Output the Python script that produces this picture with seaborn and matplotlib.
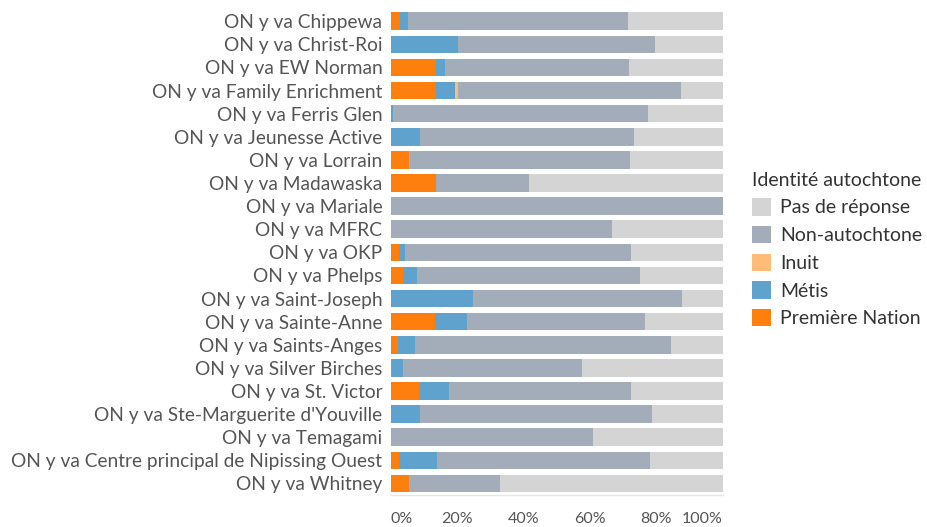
import matplotlib
matplotlib.use("Agg")
import matplotlib.pyplot as plt
import seaborn as sns
import pandas as pd
import numpy as np
from matplotlib.patches import Patch

programs = [
    "ON y va Chippewa", "ON y va Christ-Roi", "ON y va EW Norman",
    "ON y va Family Enrichment", "ON y va Ferris Glen", "ON y va Jeunesse Active",
    "ON y va Lorrain", "ON y va Madawaska", "ON y va Mariale", "ON y va MFRC",
    "ON y va OKP", "ON y va Phelps", "ON y va Saint-Joseph", "ON y va Sainte-Anne",
    "ON y va Saints-Anges", "ON y va Silver Birches", "ON y va St. Victor",
    "ON y va Ste-Marguerite d'Youville", "ON y va Temagami",
    "ON y va Centre principal de Nipissing Ouest", "ON y va Whitney",
]
premiere_nation = [2.9, 0.0, 13.7, 13.7, 0.0, 0.0, 5.4, 13.7, 0.0, 0.0, 2.5, 3.7, 0.0, 13.3, 2.1, 0.5, 8.7, 0.0, 0.0, 2.5, 5.4]
metis =           [2.4, 20.3, 2.8, 5.7, 0.8, 8.7, 0.0, 0.0, 0.0, 0.0, 1.7, 4.2, 24.7, 9.8, 5.3, 3.2, 9.0, 8.7, 0.0, 11.5, 0.0]
inuit =           [0.0, 0.0, 0.0, 0.9, 0.0, 0.0, 0.0, 0.0, 0.0, 0.0, 0.0, 0.0, 0.0, 0.0, 0.0, 0.0, 0.0, 0.0, 0.0, 0.0, 0.0]
non_autochtone =  [66.3, 59.2, 55.2, 67.1, 76.6, 64.6, 66.7, 28.0, 100.0, 66.8, 68.3, 67.1, 63.1, 53.5, 77.0, 53.9, 54.7, 70.0, 61.0, 64.2, 27.5]
pas_de_reponse =  [28.4, 20.5, 28.3, 12.6, 22.6, 26.7, 27.9, 58.3, 0.0, 33.2, 27.5, 25.0, 12.2, 23.4, 15.6, 42.4, 27.6, 21.3, 39.0, 21.8, 67.1]

series_names = ["Première Nation", "Métis", "Inuit", "Non-autochtone", "Pas de réponse"]
series_values = [premiere_nation, metis, inuit, non_autochtone, pas_de_reponse]
series_colors = ["#FF7F0E", "#5FA2CE", "#FFBC79", "#A3ACB9", "#D4D4D4"]
x_ticks = [0, 20, 40, 60, 80, 100]
x_tick_labels = ["0%", "20%", "40%", "60%", "80%", "100%"]

sns.set_theme(style="white")
plt.rcParams['font.family'] = ['Lato', 'DejaVu Sans']
text_color = "#555555"

fig = plt.figure(figsize=(9.27, 5.27), dpi=100)
ax = fig.add_axes([0.4215, 0.0607, 0.358, 0.921])

df = pd.DataFrame({"program": programs})
cum = np.zeros(len(programs))
layers = []
for name, vals, color in zip(series_names, series_values, series_colors):
    cum = cum + np.array(vals)
    df[name] = cum.copy()
    layers.append((name, color))

for name, color in reversed(layers):
    sns.barplot(data=df, x=name, y="program", order=programs, orient="h",
                color=color, saturation=1, width=0.76, linewidth=0, ax=ax)

ax.set_xlim(0, 100)
ax.set_xlabel("")
ax.set_ylabel("")
ax.set_xticks(x_ticks)
ax.set_xticklabels(x_tick_labels, fontsize=11.5, color=text_color)
lbls = ax.get_xticklabels()
lbls[0].set_ha("left")
lbls[-1].set_ha("right")
ax.tick_params(axis="x", length=5, color="#E6E6E6", width=1, pad=7)
ax.tick_params(axis="y", length=0, pad=6, labelsize=13.8, labelcolor=text_color)
for s in ["top", "right", "left"]:
    ax.spines[s].set_visible(False)
ax.spines["bottom"].set_color("#E6E6E6")
ax.spines["bottom"].set_linewidth(1)

handles = [Patch(facecolor=c, edgecolor="none") for c in reversed(series_colors)]
leg = fig.legend(handles, list(reversed(series_names)), title="Identité autochtone",
                 loc="upper left", bbox_to_anchor=(0.811, 0.674), frameon=False,
                 fontsize=14, title_fontsize=14, alignment="left",
                 handlelength=1.0, handleheight=1.0, handletextpad=0.45,
                 labelspacing=0.48, borderpad=0, borderaxespad=0)
for t in leg.get_texts():
    t.set_color("#333333")
leg.get_title().set_color("#333333")

fig.savefig("out.png", dpi=100)
